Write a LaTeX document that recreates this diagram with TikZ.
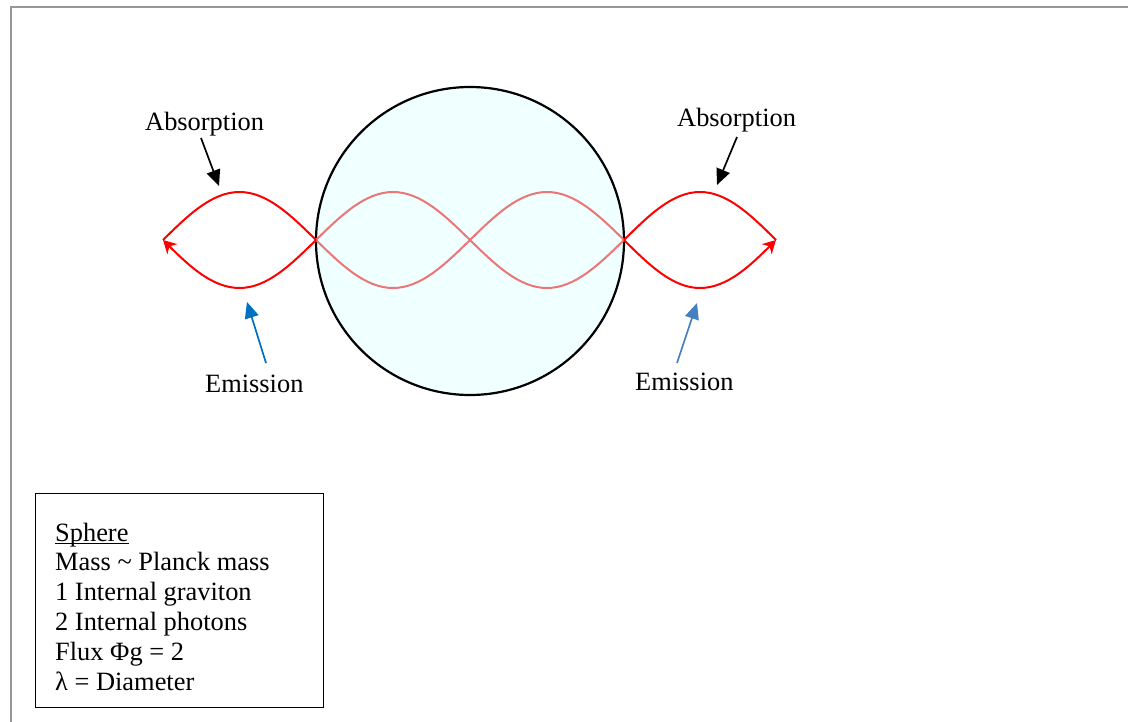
\documentclass[tikz,border=0pt]{standalone}
\usepackage{fontspec}
\setmainfont{Liberation Serif}
\usetikzlibrary{arrows.meta}
\definecolor{wavepink}{RGB}{236,118,118}
\definecolor{spherefill}{RGB}{240,255,255}
\definecolor{emblue}{RGB}{0,112,192}
\definecolor{emblueb}{RGB}{70,128,192}
\definecolor{framegray}{RGB}{150,150,150}
\begin{document}
\begin{tikzpicture}[x=1pt,y=-1pt,
  lbl/.style={font=\fontsize{26.4}{30}\selectfont, inner sep=0pt, anchor=base west},
  wave/.style={red, line width=2pt},
  innerwave/.style={wavepink, line width=2pt},
  wavetip/.style={-{Stealth[length=13pt,width=14pt,inset=4pt]}},
  pointer/.style={-{Triangle[length=16pt,width=14pt]}, line width=1.7pt}]
\useasboundingbox (0,0) rectangle (1128,722);
\fill[white] (0,0) rectangle (1128,722);
% frame
\draw[framegray, line width=2pt] (11,723) -- (11,7) -- (1129,7);
% sphere
\node[circle, draw, fill=spherefill, line width=2.2pt, minimum size=308pt, inner sep=0pt] (sphere) at (470,241) {};
% wave coordinates
\coordinate (ltip) at (163,240);
\coordinate (lc) at (316,240);
\coordinate (cc) at (470,240);
\coordinate (rc) at (624,240);
\coordinate (rtip) at (776,240);
% inner waves
\draw[innerwave] (lc) sin (393,192) cos (cc) sin (547,288) cos (rc);
\draw[innerwave] (lc) sin (393,288) cos (cc) sin (547,192) cos (rc);
% outer waves
\draw[wave] (lc) sin (239.5,192) cos (ltip);
\draw[wave, wavetip] (lc) sin (239.5,288) cos (ltip);
\draw[wave] (rc) sin (700,192) cos (rtip);
\draw[wave, wavetip] (rc) sin (700,288) cos (rtip);
% labels
\node[lbl] (absL) at (145,131) {Absorption};
\node[lbl] (absR) at (677,127) {Absorption};
\node[lbl] (emL) at (205,392) {Emission};
\node[lbl] (emR) at (635,390) {Emission};
% pointers
\coordinate (aLs) at (201,138); \coordinate (aLe) at (219,186);
\coordinate (aRs) at (737,137); \coordinate (aRe) at (717,185);
\coordinate (eLs) at (266,363); \coordinate (eLe) at (247,302);
\coordinate (eRs) at (677,363); \coordinate (eRe) at (697,303);
\draw[pointer, black] (aLs) -- (aLe);
\draw[pointer, black] (aRs) -- (aRe);
\draw[pointer, emblue] (eLs) -- (eLe);
\draw[pointer, emblueb] (eRs) -- (eRe);
% info box
\draw[line width=1pt] (35.5,493) rectangle (323,707.5);
\node[lbl] (t1) at (55,541) {Sphere};
\draw[line width=1.2pt] ([yshift=-2.5pt]t1.base west) -- ([yshift=-2.5pt]t1.base east);
\node[lbl] (t2) at (55,570) {Mass \textasciitilde{} Planck mass};
\node[lbl] (t3) at (55,600) {1 Internal graviton};
\node[lbl] (t4) at (55,630) {2 Internal photons};
\node[lbl] (t5) at (55,660) {Flux Φg = 2};
\node[lbl] (t6) at (55,690) {λ = Diameter};
\end{tikzpicture}
\end{document}
